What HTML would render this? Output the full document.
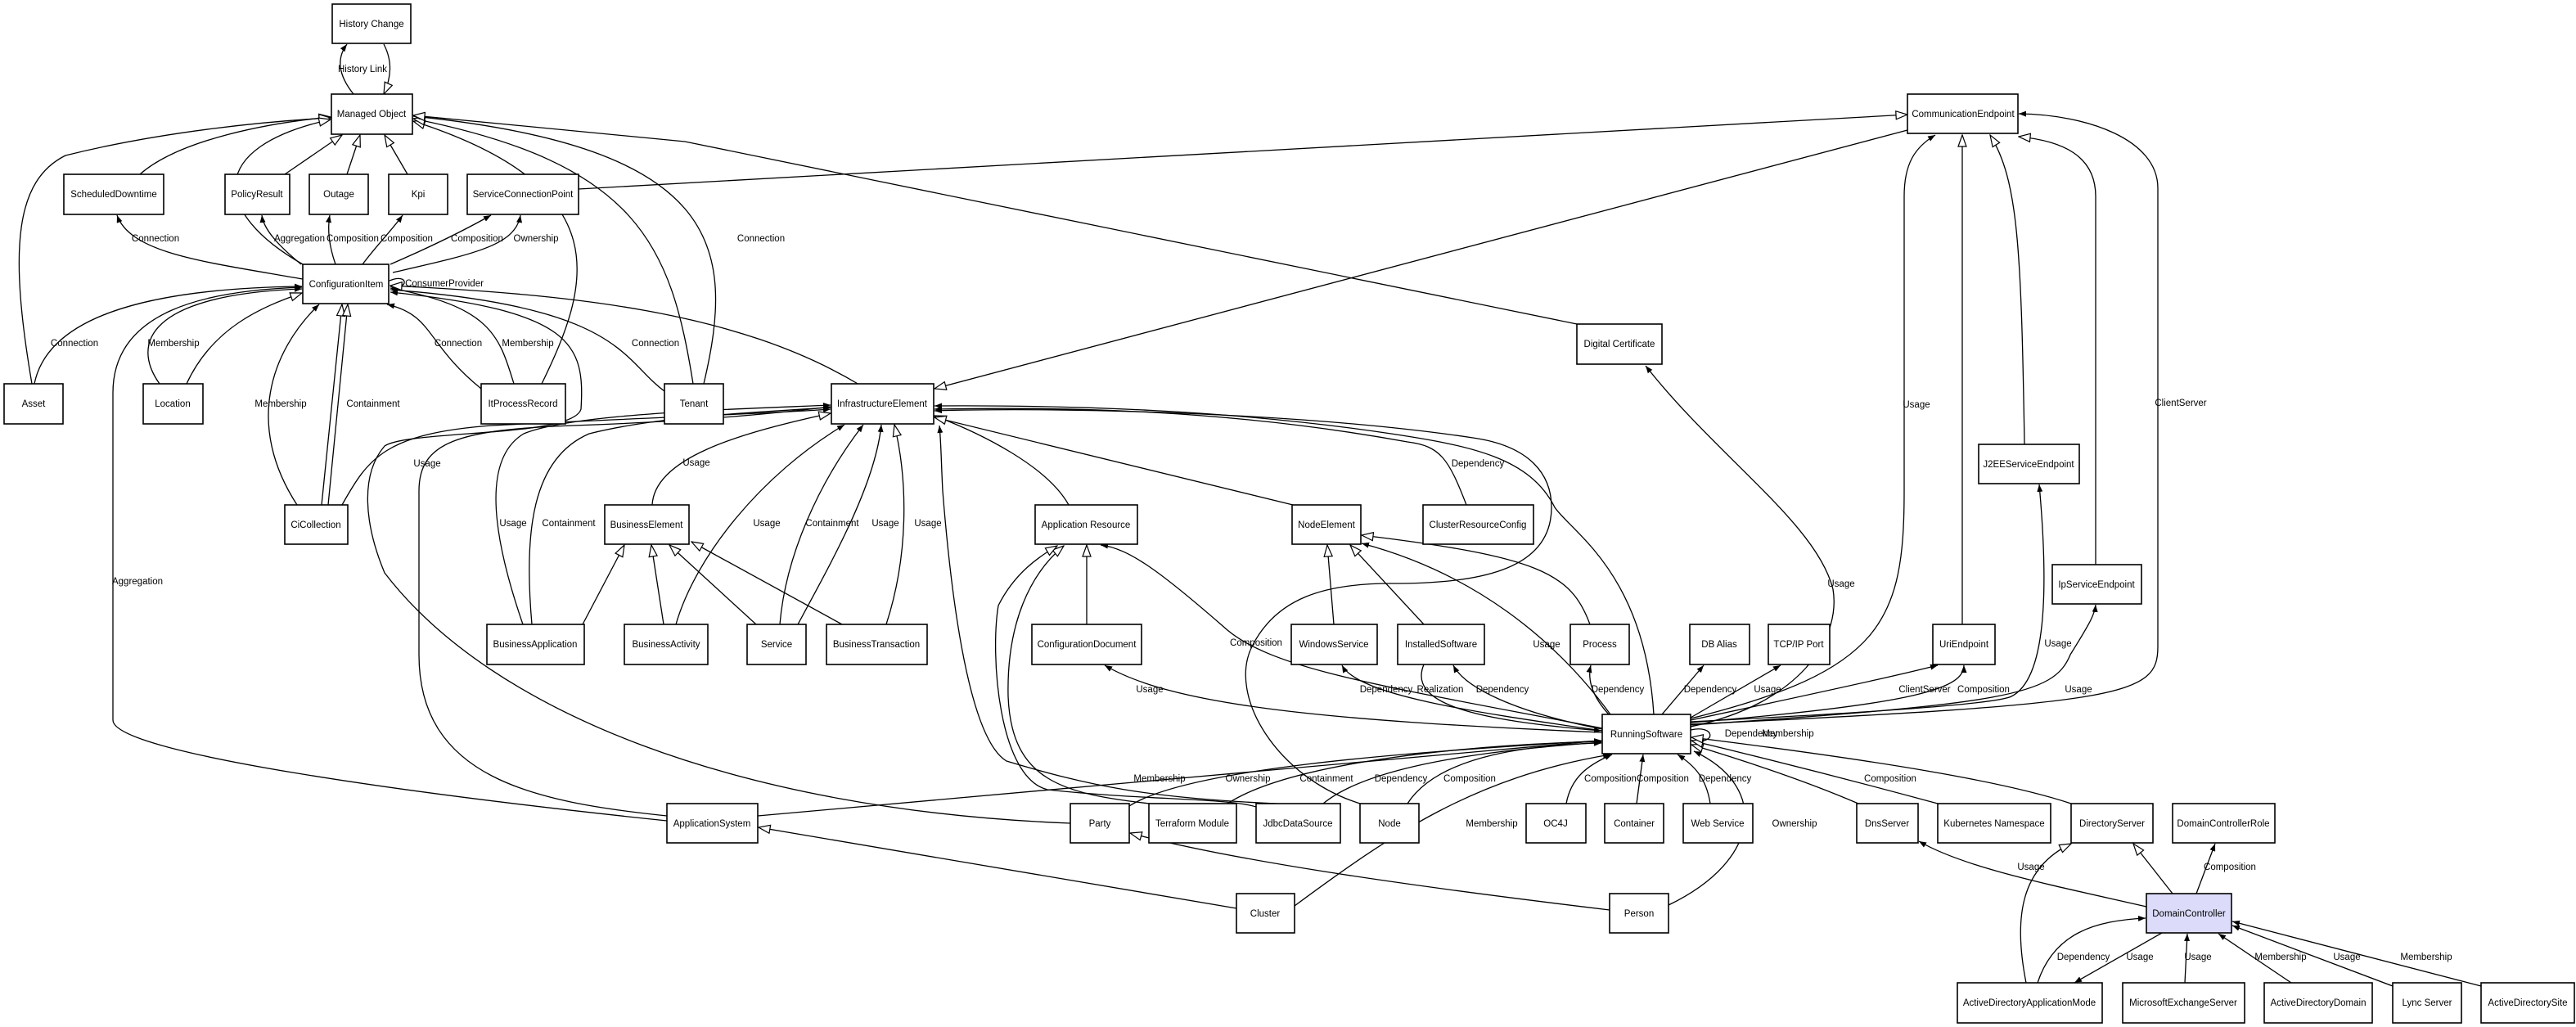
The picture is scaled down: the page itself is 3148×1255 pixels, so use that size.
<!DOCTYPE html>
<html><head><meta charset="utf-8"><style>
html,body{margin:0;padding:0;background:#fff;}
svg{display:block;}
text{font-family:"Liberation Sans",Arial,sans-serif;font-size:11.5px;fill:#000;}
.e{fill:none;stroke:#000;stroke-width:1.3;}
.g{marker-end:url(#tri);}
.a{marker-end:url(#arr);}
rect{fill:#fff;stroke:#000;stroke-width:1.6;}
</style></head><body>
<svg width="3148" height="1255" viewBox="0 0 3148 1255" xmlns="http://www.w3.org/2000/svg">
<defs>
<marker id="tri" markerWidth="16" markerHeight="12" refX="15" refY="6" orient="auto" markerUnits="userSpaceOnUse"><path d="M1,1 L15,6 L1,11 Z" fill="#fff" stroke="#000" stroke-width="1.2"/></marker>
<marker id="arr" markerWidth="10" markerHeight="8" refX="9" refY="4" orient="auto" markerUnits="userSpaceOnUse"><path d="M0,0.5 L9,4 L0,7.5 Z" fill="#000"/></marker>
</defs>
<g class="e">
<!-- top -->
<path class="a" d="M432,115 C412,90 412,70 424,54"/>
<path class="g" d="M469,54 C480,75 478,95 469,115"/>
<path class="g" d="M171,213 C220,170 330,150 404,143"/>
<path class="g" d="M39,469 C10,300 20,220 80,190 C200,160 330,148 404,144"/>
<path class="g" d="M348,213 L418,165"/>
<path class="g" d="M424,213 L440,165"/>
<path class="g" d="M498,213 L470,165"/>
<path class="g" d="M370,323 C260,260 250,180 404,146"/>
<path class="g" d="M707,231 L2331,140"/>
<path class="g" d="M662,469 C720,350 760,230 505,148"/>
<path class="g" d="M847,469 C820,300 780,200 505,145"/>
<path class="a" d="M860,469 C900,300 880,180 505,142"/>
<path class="g" d="M1927,396 L837,173 L505,141"/>
<!-- CI -->
<path class="a" d="M370,341 C250,320 160,310 143,263"/>
<path class="a" d="M368,323 C340,300 322,280 320,263"/>
<path class="a" d="M410,323 C402,300 400,280 403,263"/>
<path class="a" d="M443,323 C460,300 480,280 492,263"/>
<path class="a" d="M477,323 C530,300 570,280 600,263"/>
<path class="a" d="M480,333 C580,310 630,300 636,263"/>
<path class="a" d="M476,343 C500,333 500,355 477,350"/>
<path class="a" d="M42,469 C60,380 200,352 369,350"/>
<path class="a" d="M195,469 C160,420 180,360 369,353"/>
<path class="g" d="M228,469 C260,400 320,375 369,358"/>
<path class="a" d="M363,617 C300,520 330,430 390,372"/>
<path class="g" d="M393,617 L418,372"/>
<path class="g" d="M401,617 L425,372"/>
<path class="a" d="M588,475 C520,420 530,385 473,372"/>
<path class="a" d="M628,469 C610,410 600,375 477,352"/>
<path class="a" d="M812,478 C760,440 760,375 477,354"/>
<path class="g" d="M1050,470 C900,380 700,360 477,349"/>
<path class="a" d="M815,1003 C500,970 138,920 138,880 L138,480 C138,380 250,355 369,351"/>
<path class="a" d="M1308,1006 C900,990 600,870 470,700 C445,640 440,580 470,545 C500,525 700,535 710,500 C715,420 700,380 477,357"/>
<!-- IE -->
<path class="a" d="M418,617 C450,560 470,530 600,520 C800,510 950,505 1015,500"/>
<path class="a" d="M815,997 C650,980 512,950 512,800 L512,600 C512,540 560,525 700,520 C850,515 950,505 1015,497"/>
<path class="a" d="M639,763 C600,650 590,560 640,530 C700,505 900,500 1015,495"/>
<path class="a" d="M650,763 C640,650 650,560 720,530 C800,510 900,505 1015,498"/>
<path class="g" d="M797,617 C800,560 900,530 1015,505"/>
<path class="a" d="M826,763 C850,680 930,580 1032,519"/>
<path class="a" d="M953,763 C960,680 1000,590 1055,519"/>
<path class="a" d="M975,763 C1020,680 1070,590 1077,519"/>
<path class="g" d="M1083,763 C1110,680 1110,590 1093,519"/>
<path class="g" d="M1306,617 C1280,570 1200,530 1142,508"/>
<path class="g" d="M1580,617 L1142,510"/>
<path class="a" d="M1792,617 C1770,560 1760,545 1720,540 C1500,500 1300,497 1142,500"/>
<path class="a" d="M2021,873 C2010,700 1920,650 1900,620 C1870,560 1800,545 1700,530 C1500,500 1300,495 1142,496"/>
<path class="a" d="M1662,982 C1560,950 1500,850 1530,790 C1560,730 1620,713 1700,713 C1800,713 1896,700 1896,620 C1896,580 1870,545 1800,535 C1600,505 1300,497 1142,502"/>
<path class="a" d="M1560,982 C1400,975 1330,960 1230,930 C1180,900 1160,700 1152,600 C1150,560 1150,540 1148,520"/>
<path class="g" d="M2331,159 L1142,475"/>
<!-- BE / AR -->
<path class="g" d="M712,763 L763,666"/>
<path class="g" d="M811,763 L796,666"/>
<path class="g" d="M924,763 L818,666"/>
<path class="g" d="M1029,763 L845,662"/>
<path class="g" d="M1328,763 L1328,666"/>
<path class="g" d="M1405,982 C1300,970 1236,955 1232,851 C1230,760 1260,700 1300,667"/>
<path class="g" d="M1535,986 C1500,975 1400,978 1280,965 C1220,950 1210,800 1220,740 C1240,700 1270,680 1292,667"/>
<!-- CE -->
<path class="a" d="M2066,878 C2300,820 2327,760 2327,600 L2327,240 C2327,200 2340,180 2365,165"/>
<path class="g" d="M2398,763 L2398,165"/>
<path class="g" d="M2474,543 C2470,300 2466,220 2432,165"/>
<path class="g" d="M2561,690 L2561,240 C2561,190 2520,172 2467,167"/>
<path class="a" d="M2066,885 C2600,860 2637,850 2637,790 L2637,230 C2637,170 2550,140 2467,139"/>
<path class="a" d="M2066,882 C2300,870 2440,860 2458,851 C2500,830 2504,725 2492,592"/>
<path class="a" d="M2066,886 C2450,860 2510,850 2530,800 C2555,760 2560,750 2561,739"/>
<path class="a" d="M2066,880 C2300,830 2340,820 2368,813"/>
<path class="a" d="M2066,883 C2350,860 2400,840 2400,813"/>
<path class="a" d="M2066,888 C2200,860 2250,780 2240,720 C2220,640 2100,560 2011,447"/>
<!-- RS -->
<path class="a" d="M1958,890 C1700,840 1560,820 1500,770 C1420,700 1380,670 1345,666"/>
<path class="a" d="M1958,895 C1600,880 1430,860 1350,813"/>
<path class="a" d="M1958,893 C1800,870 1660,850 1640,813"/>
<path class="a" d="M1740,812 C1720,860 1800,880 1957,893"/>
<path class="a" d="M1958,891 C1850,870 1790,840 1776,813"/>
<path class="a" d="M1968,873 C1900,780 1800,700 1664,664"/>
<path class="a" d="M1966,873 C1945,850 1940,830 1944,813"/>
<path class="g" d="M1630,763 L1622,666"/>
<path class="g" d="M1740,763 L1650,666"/>
<path class="g" d="M1943,763 C1920,700 1880,680 1664,654"/>
<path class="a" d="M2031,873 L2082,813"/>
<path class="a" d="M2066,877 L2176,813"/>
<path class="a" d="M2066,892 C2095,885 2100,910 2067,905"/>
<path class="a" d="M926,997 L1957,905"/>
<path class="a" d="M1380,985 C1450,940 1700,920 1957,905"/>
<path class="a" d="M1500,982 C1580,930 1800,910 1957,906"/>
<path class="a" d="M1617,982 C1680,930 1850,915 1957,907"/>
<path class="a" d="M1720,982 C1760,920 1880,910 1957,908"/>
<path class="a" d="M1582,1107 C1700,1020 1800,950 1968,922"/>
<path class="a" d="M1914,982 C1920,950 1940,935 1970,922"/>
<path class="a" d="M2000,982 L2008,922"/>
<path class="a" d="M2090,982 C2085,950 2070,935 2050,922"/>
<path class="a" d="M2039,1106 C2155,1050 2160,960 2070,918"/>
<path class="g" d="M2271,982 C2220,960 2150,935 2067,910"/>
<path class="g" d="M2368,982 C2250,950 2150,925 2067,905"/>
<path class="g" d="M2531,982 C2450,955 2300,930 2067,901"/>
<path class="g" d="M1511,1110 L927,1011"/>
<path class="g" d="M1967,1112 C1700,1080 1500,1050 1381,1018"/>
<!-- DC -->
<path class="a" d="M2623,1108 C2500,1080 2400,1060 2345,1028"/>
<path class="g" d="M2655,1092 L2607,1031"/>
<path class="a" d="M2684,1092 L2707,1031"/>
<path class="g" d="M2476,1201 C2460,1120 2470,1060 2531,1031"/>
<path class="a" d="M2490,1201 C2510,1140 2560,1125 2622,1122"/>
<path class="a" d="M2642,1140 L2535,1201"/>
<path class="a" d="M2670,1201 L2673,1141"/>
<path class="a" d="M2800,1201 L2711,1141"/>
<path class="a" d="M2924,1205 L2728,1131"/>
<path class="a" d="M3032,1205 L2728,1126"/>
</g>
<!-- nodes -->
<g>
<rect x="406" y="5" width="96" height="48"/>
<rect x="405" y="115" width="99" height="49"/>
<rect x="78" y="213" width="122" height="49"/>
<rect x="275" y="213" width="79" height="49"/>
<rect x="378" y="213" width="72" height="49"/>
<rect x="475" y="213" width="72" height="49"/>
<rect x="571" y="213" width="136" height="49"/>
<rect x="370" y="323" width="105" height="48"/>
<rect x="5" y="469" width="72" height="49"/>
<rect x="175" y="469" width="73" height="49"/>
<rect x="588" y="469" width="103" height="49"/>
<rect x="812" y="469" width="72" height="49"/>
<rect x="1016" y="469" width="125" height="49"/>
<rect x="1927" y="396" width="104" height="49"/>
<rect x="2331" y="115" width="135" height="48"/>
<rect x="2418" y="543" width="123" height="48"/>
<rect x="2508" y="690" width="109" height="48"/>
<rect x="348" y="617" width="77" height="48"/>
<rect x="739" y="617" width="103" height="48"/>
<rect x="1265" y="617" width="125" height="48"/>
<rect x="1579" y="617" width="84" height="48"/>
<rect x="1739" y="617" width="135" height="48"/>
<rect x="595" y="763" width="119" height="49"/>
<rect x="763" y="763" width="102" height="49"/>
<rect x="913" y="763" width="72" height="49"/>
<rect x="1010" y="763" width="123" height="49"/>
<rect x="1261" y="763" width="134" height="49"/>
<rect x="1578" y="763" width="105" height="49"/>
<rect x="1708" y="763" width="106" height="49"/>
<rect x="1919" y="763" width="72" height="49"/>
<rect x="2065" y="763" width="73" height="49"/>
<rect x="2161" y="763" width="75" height="49"/>
<rect x="2362" y="763" width="76" height="49"/>
<rect x="1958" y="873" width="108" height="48"/>
<rect x="815" y="982" width="111" height="48"/>
<rect x="1308" y="982" width="72" height="48"/>
<rect x="1404" y="982" width="107" height="48"/>
<rect x="1535" y="982" width="103" height="48"/>
<rect x="1662" y="982" width="72" height="48"/>
<rect x="1865" y="982" width="73" height="48"/>
<rect x="1961" y="982" width="72" height="48"/>
<rect x="2057" y="982" width="85" height="48"/>
<rect x="2269" y="982" width="75" height="48"/>
<rect x="2368" y="982" width="138" height="48"/>
<rect x="2531" y="982" width="100" height="48"/>
<rect x="2655" y="982" width="125" height="48"/>
<rect x="1511" y="1092" width="71" height="48"/>
<rect x="1967" y="1092" width="72" height="48"/>
<rect x="2623" y="1092" width="104" height="48" style="fill:#dcdcfa"/>
<rect x="2392" y="1201" width="177" height="49"/>
<rect x="2594" y="1201" width="149" height="49"/>
<rect x="2767" y="1201" width="132" height="49"/>
<rect x="2924" y="1201" width="84" height="49"/>
<rect x="3032" y="1201" width="114" height="49"/>
</g>
<g text-anchor="middle">
<text x="454" y="33">History Change</text>
<text x="454" y="143">Managed Object</text>
<text x="139" y="241">ScheduledDowntime</text>
<text x="314" y="241">PolicyResult</text>
<text x="414" y="241">Outage</text>
<text x="511" y="241">Kpi</text>
<text x="639" y="241">ServiceConnectionPoint</text>
<text x="423" y="351">ConfigurationItem</text>
<text x="41" y="497">Asset</text>
<text x="211" y="497">Location</text>
<text x="639" y="497">ItProcessRecord</text>
<text x="848" y="497">Tenant</text>
<text x="1078" y="497">InfrastructureElement</text>
<text x="1979" y="424">Digital Certificate</text>
<text x="2399" y="143">CommunicationEndpoint</text>
<text x="2479" y="571">J2EEServiceEndpoint</text>
<text x="2562" y="718">IpServiceEndpoint</text>
<text x="386" y="645">CiCollection</text>
<text x="790" y="645">BusinessElement</text>
<text x="1327" y="645">Application Resource</text>
<text x="1621" y="645">NodeElement</text>
<text x="1806" y="645">ClusterResourceConfig</text>
<text x="654" y="791">BusinessApplication</text>
<text x="814" y="791">BusinessActivity</text>
<text x="949" y="791">Service</text>
<text x="1071" y="791">BusinessTransaction</text>
<text x="1328" y="791">ConfigurationDocument</text>
<text x="1630" y="791">WindowsService</text>
<text x="1761" y="791">InstalledSoftware</text>
<text x="1955" y="791">Process</text>
<text x="2101" y="791">DB Alias</text>
<text x="2198" y="791">TCP/IP Port</text>
<text x="2400" y="791">UriEndpoint</text>
<text x="2012" y="901">RunningSoftware</text>
<text x="870" y="1010">ApplicationSystem</text>
<text x="1344" y="1010">Party</text>
<text x="1457" y="1010">Terraform Module</text>
<text x="1586" y="1010">JdbcDataSource</text>
<text x="1698" y="1010">Node</text>
<text x="1901" y="1010">OC4J</text>
<text x="1997" y="1010">Container</text>
<text x="2099" y="1010">Web Service</text>
<text x="2306" y="1010">DnsServer</text>
<text x="2437" y="1010">Kubernetes Namespace</text>
<text x="2581" y="1010">DirectoryServer</text>
<text x="2717" y="1010">DomainControllerRole</text>
<text x="1546" y="1120">Cluster</text>
<text x="2003" y="1120">Person</text>
<text x="2675" y="1120">DomainController</text>
<text x="2480" y="1229">ActiveDirectoryApplicationMode</text>
<text x="2668" y="1229">MicrosoftExchangeServer</text>
<text x="2833" y="1229">ActiveDirectoryDomain</text>
<text x="2966" y="1229">Lync Server</text>
<text x="3089" y="1229">ActiveDirectorySite</text>
</g>
<g text-anchor="middle" style="font-size:11px">
<text x="443" y="88">History Link</text>
<text x="190" y="295">Connection</text>
<text x="366" y="295">Aggregation</text>
<text x="431" y="295">Composition</text>
<text x="497" y="295">Composition</text>
<text x="583" y="295">Composition</text>
<text x="655" y="295">Ownership</text>
<text x="930" y="295">Connection</text>
<text x="543" y="350">ConsumerProvider</text>
<text x="91" y="423">Connection</text>
<text x="212" y="423">Membership</text>
<text x="560" y="423">Connection</text>
<text x="645" y="423">Membership</text>
<text x="801" y="423">Connection</text>
<text x="343" y="497">Membership</text>
<text x="456" y="497">Containment</text>
<text x="522" y="570">Usage</text>
<text x="851" y="569">Usage</text>
<text x="1806" y="570">Dependency</text>
<text x="2342" y="498">Usage</text>
<text x="2665" y="496">ClientServer</text>
<text x="2250" y="717">Usage</text>
<text x="168" y="714">Aggregation</text>
<text x="627" y="643">Usage</text>
<text x="695" y="643">Containment</text>
<text x="937" y="643">Usage</text>
<text x="1017" y="643">Containment</text>
<text x="1082" y="643">Usage</text>
<text x="1134" y="643">Usage</text>
<text x="1535" y="789">Composition</text>
<text x="1890" y="791">Usage</text>
<text x="2515" y="790">Usage</text>
<text x="1405" y="846">Usage</text>
<text x="1694" y="846">Dependency</text>
<text x="1760" y="846">Realization</text>
<text x="1836" y="846">Dependency</text>
<text x="1977" y="846">Dependency</text>
<text x="2090" y="846">Dependency</text>
<text x="2160" y="846">Usage</text>
<text x="2352" y="846">ClientServer</text>
<text x="2424" y="846">Composition</text>
<text x="2540" y="846">Usage</text>
<text x="2140" y="900">Dependency</text>
<text x="2185" y="900">Membership</text>
<text x="1417" y="955">Membership</text>
<text x="1525" y="955">Ownership</text>
<text x="1621" y="955">Containment</text>
<text x="1712" y="955">Dependency</text>
<text x="1796" y="955">Composition</text>
<text x="1968" y="955">Composition</text>
<text x="2032" y="955">Composition</text>
<text x="2108" y="955">Dependency</text>
<text x="2310" y="955">Composition</text>
<text x="1823" y="1010">Membership</text>
<text x="2193" y="1010">Ownership</text>
<text x="2482" y="1063">Usage</text>
<text x="2725" y="1063">Composition</text>
<text x="2546" y="1173">Dependency</text>
<text x="2615" y="1173">Usage</text>
<text x="2686" y="1173">Usage</text>
<text x="2787" y="1173">Membership</text>
<text x="2868" y="1173">Usage</text>
<text x="2965" y="1173">Membership</text>
</g>
</svg>
</body></html>
